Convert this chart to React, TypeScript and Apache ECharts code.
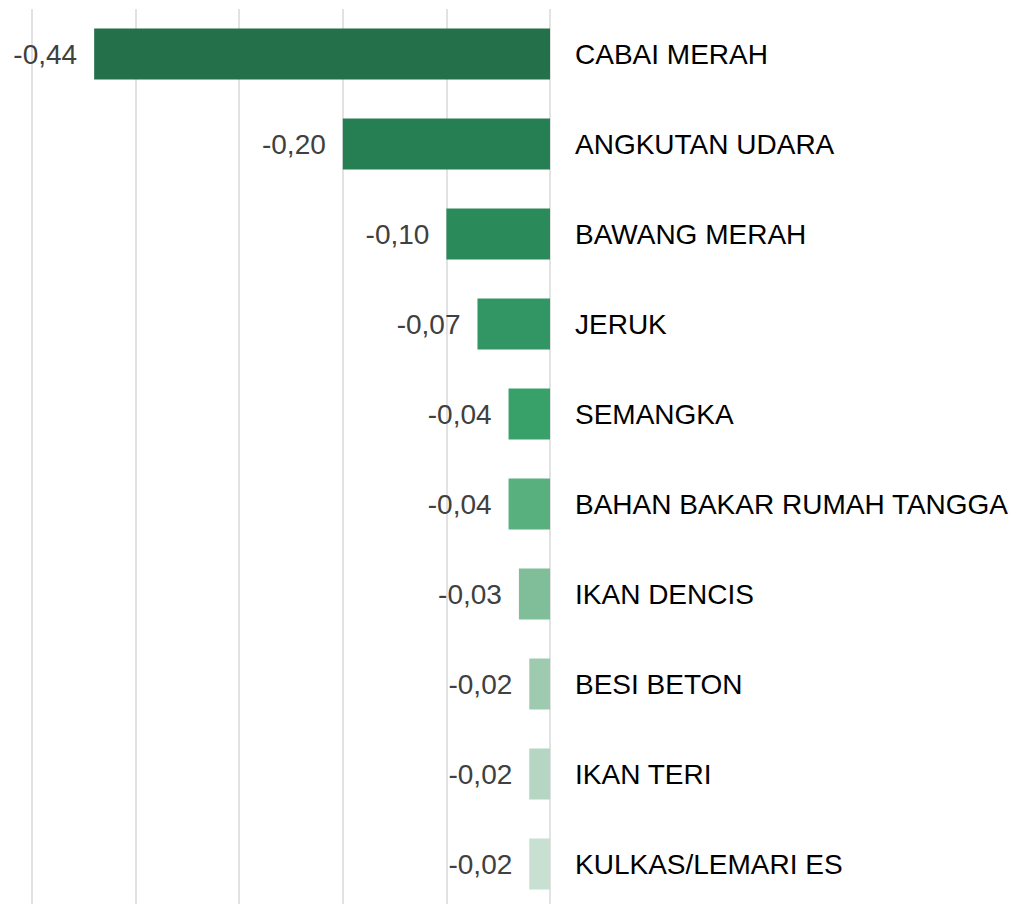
import React, { useEffect, useRef } from "react";
import * as echarts from "echarts";

const categories = [
  "CABAI MERAH",
  "ANGKUTAN UDARA",
  "BAWANG MERAH",
  "JERUK",
  "SEMANGKA",
  "BAHAN BAKAR RUMAH TANGGA",
  "IKAN DENCIS",
  "BESI BETON",
  "IKAN TERI",
  "KULKAS/LEMARI ES",
];
const values = [-0.44, -0.2, -0.1, -0.07, -0.04, -0.04, -0.03, -0.02, -0.02, -0.02];
const barColors = [
  "#23704B",
  "#267E53",
  "#2A8A5A",
  "#319564",
  "#37A169",
  "#58B07F",
  "#80BD99",
  "#9ECBAF",
  "#B5D6C3",
  "#C8E0D2",
];
const xTicks = { min: -0.5, max: 0, interval: 0.1 };

export default function App() {
  const ref = useRef<HTMLDivElement>(null);
  useEffect(() => {
    if (!ref.current) return;
    const chart = echarts.init(ref.current, null, { renderer: "svg" });
    const font = "'Liberation Sans', Arial, sans-serif";
    chart.setOption({
      animation: false,
      backgroundColor: "#ffffff",
      grid: { left: 32, right: 1017 - 550, top: 9, bottom: 0, containLabel: false },
      xAxis: {
        type: "value",
        min: xTicks.min,
        max: xTicks.max,
        interval: xTicks.interval,
        axisLabel: { show: false },
        axisLine: { show: false },
        axisTick: { show: false },
        splitLine: { show: true, lineStyle: { color: "#d9d9d9", width: 1.5 } },
      },
      yAxis: {
        type: "category",
        data: categories,
        inverse: true,
        position: "right",
        axisLine: { show: false },
        axisTick: { show: false },
        axisLabel: {
          align: "left",
          margin: 25,
          color: "#000000",
          fontSize: 28,
          fontFamily: font,
        },
      },
      series: [
        {
          type: "bar",
          barWidth: 51,
          data: values.map((v, i) => ({ value: v, itemStyle: { color: barColors[i] } })),
          label: {
            show: true,
            position: "left",
            distance: 17,
            color: "#404040",
            fontSize: 28,
            fontFamily: font,
            formatter: (p: any) => Number(p.value).toFixed(2).replace(".", ","),
          },
        },
      ],
    });
    return () => chart.dispose();
  }, []);
  return (
    <div
      ref={ref}
      style={{ position: "fixed", left: 0, top: 0, width: 1017, height: 909 }}
    />
  );
}
